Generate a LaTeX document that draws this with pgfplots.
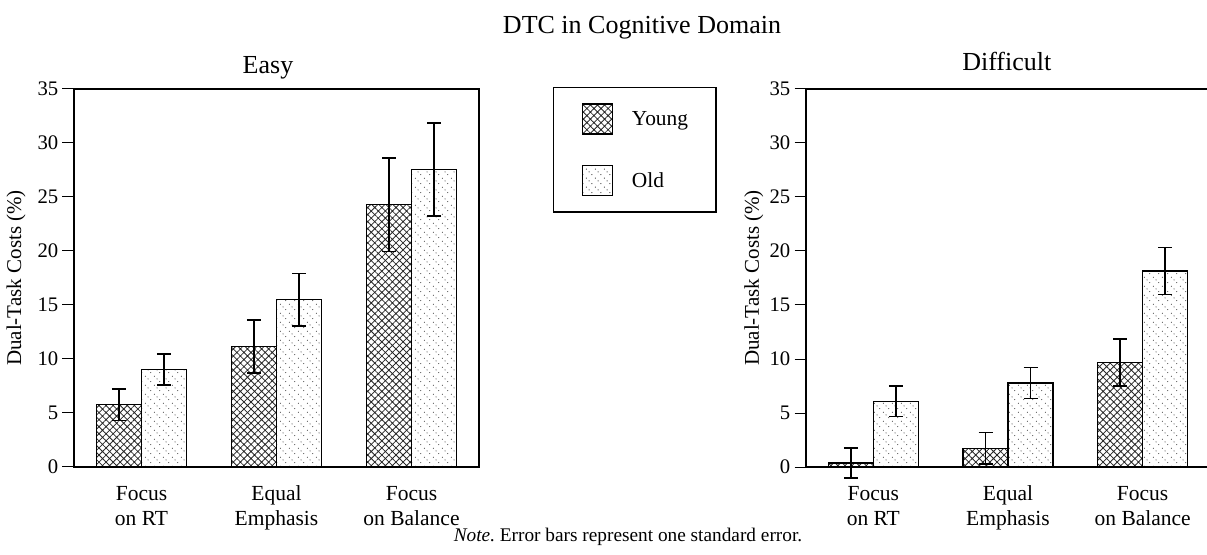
\documentclass[border=0pt]{standalone}
\usepackage{fontspec}
\setmainfont{Liberation Serif}
\usepackage{pgfplots}
\pgfplotsset{compat=1.18}
\usepackage{pgfplotstable}
\usetikzlibrary{patterns,patterns.meta}
\frenchspacing

\pgfdeclarepatternformonly{diagdots}{\pgfpointorigin}{\pgfpoint{9pt}{9pt}}{\pgfpoint{9pt}{9pt}}{%
  \pgfpathcircle{\pgfpoint{1.5pt}{7.5pt}}{0.6pt}%
  \pgfpathcircle{\pgfpoint{4.5pt}{4.5pt}}{0.6pt}%
  \pgfpathcircle{\pgfpoint{7.5pt}{1.5pt}}{0.6pt}%
  \pgfusepath{fill}%
}

\pgfplotstableread{
x y e
0 5.77 1.45
1 11.15 2.44
2 24.29 4.33
}\easyyoung
\pgfplotstableread{
x y e
0 9.04 1.43
1 15.49 2.44
2 27.56 4.30
}\easyold
\pgfplotstableread{
x y e
0 0.37 1.39
1 1.73 1.45
2 9.69 2.18
}\diffyoung
\pgfplotstableread{
x y e
0 6.08 1.40
1 7.78 1.42
2 18.15 2.19
}\diffold

\pgfplotsset{
  mylegend/.style={legend image code/.code={\draw[##1,line width=1.3pt] (0pt,-15pt) rectangle (30pt,15pt);}},
  eb/.style={
    /pgfplots/error bars/y dir=both,
    /pgfplots/error bars/y explicit,
    /pgfplots/error bars/error bar style={line width=1.5pt,black},
    /pgfplots/error bars/error mark options={rotate=90,mark size=7pt,line width=1.5pt,black},
  },
  young/.style={draw=black,line width=1.3pt,pattern={Hatch[angle=45,distance=5pt,line width=0.8pt]},pattern color=black!85,eb,mylegend},
  old/.style={draw=black,line width=1.3pt,pattern=diagdots,pattern color=black!85,eb,mylegend},
  panel/.style={
    scale only axis, height=378pt,
    ymin=0, ymax=35, ytick={0,5,...,35},
    xmin=-0.5, xmax=2.5, xtick={0,1,2},
    xticklabels={{Focus\\on RT},{Equal\\Emphasis},{Focus\\on Balance}},
    ybar=0pt, bar width=45pt, clip=false,
    axis line style={line width=1.3pt},
    tick align=outside, major tick length=11.5pt, ytick pos=left,
    xtick style={draw=none},
    ytick style={line width=1pt,black},
    /pgf/number format/assume math mode=true,
    yticklabel style={font=\fontsize{20.7}{24}\selectfont, inner xsep=4pt},
    xticklabel style={font=\fontsize{21.5}{25}\selectfont, align=center, yshift=-4pt},
    ylabel={Dual-Task Costs (\%)},
    ylabel style={font=\fontsize{21}{24}\selectfont, anchor=center},
    title style={font=\fontsize{26}{30}\selectfont, anchor=base},
  },
}

\begin{document}
\begin{tikzpicture}
\begin{axis}[panel, at={(74pt,87pt)}, anchor=south west, width=405pt,
  title=Easy, title style={at={(0.479,1)}, yshift=9pt},
  ylabel style={at={(axis description cs:-0.143,0.5)}},
  legend style={at={(1.1827,1.006)}, anchor=north west, draw=black, line width=1.3pt,
    inner xsep=28pt, inner ysep=16pt, row sep=30pt, column sep=19pt,
    nodes={inner sep=0pt}, font=\fontsize{21.4}{24}\selectfont},
  legend cell align=left]
\addplot[young] table[x=x,y=y,y error=e]{\easyyoung};
\addplot[old] table[x=x,y=y,y error=e]{\easyold};
\legend{Young,Old}
\end{axis}
\begin{axis}[panel, at={(806pt,87pt)}, anchor=south west, width=404pt,
  title=Difficult, title style={at={(0.497,1)}, yshift=12.3pt},
  ylabel style={at={(axis description cs:-0.129,0.5)}}]
\addplot[young] table[x=x,y=y,y error=e]{\diffyoung};
\addplot[old] table[x=x,y=y,y error=e]{\diffold};
\end{axis}
\node[font=\fontsize{26}{30}\selectfont, anchor=base] at (642pt,520.7pt) {DTC in Cognitive Domain};
\node[font=\fontsize{19.3}{22}\selectfont, anchor=base] at (628pt,12.3pt) {\textit{Note.} Error bars represent one standard error.};
\pgfresetboundingbox
\path (0pt,0pt) rectangle (1207pt,554pt);
\end{tikzpicture}
\end{document}
